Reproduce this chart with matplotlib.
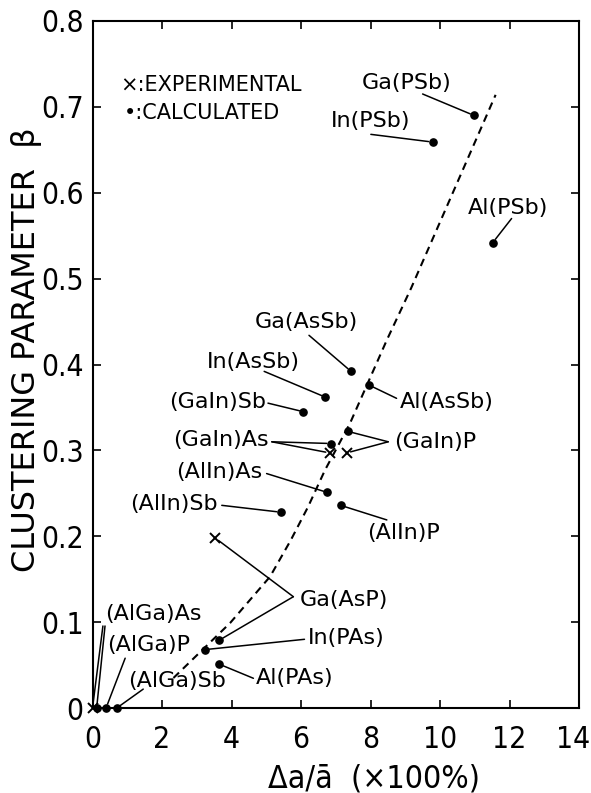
import matplotlib
matplotlib.use('Agg')
import matplotlib.pyplot as plt
from matplotlib import font_manager
from matplotlib.transforms import ScaledTranslation

# calculated clustering parameter vs. lattice mismatch (x100 %)
alloys = ['Ga(PSb)', 'In(PSb)', 'Al(PSb)', 'Ga(AsSb)', 'Al(AsSb)', 'In(AsSb)',
          '(GaIn)Sb', '(GaIn)P', '(GaIn)As', '(AlIn)As', '(AlIn)P', '(AlIn)Sb',
          'Ga(AsP)', 'In(PAs)', 'Al(PAs)', '(AlGa)As', '(AlGa)P', '(AlGa)Sb']
mismatch_calc = [10.98, 9.79, 11.52, 7.44, 7.96, 6.70,
                 6.07, 7.36, 6.86, 6.76, 7.14, 5.42,
                 3.65, 3.24, 3.65, 0.12, 0.39, 0.70]
beta_calc = [0.690, 0.659, 0.542, 0.392, 0.376, 0.362,
             0.345, 0.322, 0.308, 0.251, 0.236, 0.228,
             0.079, 0.068, 0.051, 0.0, 0.0, 0.0]

# experimental points
exp_alloys = ['(GaIn)As', '(GaIn)P', 'Ga(AsP)', '(AlGa)As']
mismatch_exp = [6.83, 7.31, 3.53, 0.0]
beta_exp = [0.297, 0.297, 0.198, 0.0]

# dashed trend curve
trend_x = [2.33, 3.96, 5.11, 5.70, 6.20, 6.69, 7.41, 8.47, 9.17, 11.60]
trend_y = [0.035, 0.099, 0.153, 0.195, 0.234, 0.277, 0.3315, 0.4285, 0.489, 0.714]

xticks = [0, 2, 4, 6, 8, 10, 12, 14]
yticks = [0, 0.1, 0.2, 0.3, 0.4, 0.5, 0.6, 0.7, 0.8]
ytick_labels = ['0', '0.1', '0.2', '0.3', '0.4', '0.5', '0.6', '0.7', '0.8']

# label text: (name, text xy, ha, leader starts, which points the leaders go to)
labels = [
    ('Ga(PSb)', (10.34, 0.728), 'right', [(9.50, 0.715)], ['calc']),
    ('In(PSb)', (7.99, 0.683), 'center', [(8.01, 0.668)], ['calc']),
    ('Al(PSb)', (11.97, 0.582), 'center', [(12.06, 0.570)], ['calc']),
    ('Ga(AsSb)', (6.16, 0.450), 'center', [(6.23, 0.434)], ['calc']),
    ('In(AsSb)', (5.97, 0.403), 'right', [(4.94, 0.392)], ['calc']),
    ('(GaIn)Sb', (4.99, 0.356), 'right', [(5.05, 0.355)], ['calc']),
    ('Al(AsSb)', (8.85, 0.356), 'left', [(8.75, 0.3606)], ['calc']),
    ('(GaIn)As', (5.08, 0.312), 'right', [(5.16, 0.310), (5.16, 0.310)], ['calc', 'exp']),
    ('(GaIn)P', (8.68, 0.310), 'left', [(8.51, 0.310), (8.51, 0.310)], ['calc', 'exp']),
    ('(AlIn)As', (4.88, 0.275), 'right', [(5.01, 0.273)], ['calc']),
    ('(AlIn)P', (7.90, 0.2035), 'left', [(8.47, 0.219)], ['calc']),
    ('(AlIn)Sb', (3.61, 0.238), 'right', [(3.72, 0.236)], ['calc']),
    ('Ga(AsP)', (5.97, 0.126), 'left', [(5.78, 0.1296), (5.78, 0.1296)], ['exp', 'calc']),
    ('In(PAs)', (6.20, 0.081), 'left', [(6.10, 0.080)], ['calc']),
    ('Al(PAs)', (4.71, 0.0346), 'left', [(4.63, 0.0346)], ['calc']),
    ('(AlGa)As', (0.36, 0.110), 'left', [(0.30, 0.0955), (0.36, 0.0955)], ['exp', 'calc']),
    ('(AlGa)P', (0.42, 0.073), 'left', [(0.94, 0.058)], ['calc']),
    ('(AlGa)Sb', (1.02, 0.032), 'left', [(1.46, 0.022)], ['calc']),
]

# narrow lettering for the numbers: condensed DejaVu if present, else Liberation Sans
cond = font_manager.findfont(font_manager.FontProperties(family='DejaVu Sans', stretch='condensed'))
if 'Condensed' in cond:
    tick_font = dict(fontproperties=font_manager.FontProperties(fname=cond, size=21.5))
    xlabel_font = dict(fontproperties=font_manager.FontProperties(fname=cond, size=23))
else:
    tick_font = dict(family='Liberation Sans', fontsize=20)
    xlabel_font = dict(family='Liberation Sans', fontsize=21)

fig = plt.figure(figsize=(5.91, 7.93), dpi=100)
ax = fig.add_axes([92.5 / 591, 85 / 793, 486.5 / 591, 687 / 793])

ax.plot(trend_x, trend_y, color='black', lw=1.5, linestyle=(0, (3.7, 2.6)))
ax.plot(mismatch_calc, beta_calc, 'o', color='black', ms=5.2, clip_on=False, zorder=5)
ax.plot(mismatch_exp, beta_exp, 'x', color='black', ms=7, mew=1.4, clip_on=False, zorder=5)

for name, txt, ha, starts, targets in labels:
    ax.text(txt[0], txt[1], name, ha=ha, va='center', fontsize=16, family='DejaVu Sans')
    for start, kind in zip(starts, targets):
        if kind == 'calc':
            i = alloys.index(name)
            pt = (mismatch_calc[i], beta_calc[i])
        else:
            i = exp_alloys.index(name)
            pt = (mismatch_exp[i], beta_exp[i])
        ax.annotate('', xy=pt, xytext=start,
                    arrowprops=dict(arrowstyle='-', color='black', lw=1.1,
                                    shrinkA=0, shrinkB=3))

ax.text(0.79, 0.7255, '×:EXPERIMENTAL', ha='left', va='center', fontsize=15, family='DejaVu Sans')
ax.text(0.91, 0.693, '•:CALCULATED', ha='left', va='center', fontsize=15, family='DejaVu Sans')

ax.set_xlim(0, 14)
ax.set_ylim(0, 0.8)
ax.set_xticks(xticks)
ax.set_xticklabels([str(t) for t in xticks], **tick_font)
ax.set_yticks(yticks)
ax.set_yticklabels(ytick_labels, **tick_font)
ax.tick_params(direction='in', top=True, right=True, length=6, width=1.2)
ax.tick_params(axis='x', pad=12)
ax.tick_params(axis='y', pad=6.5)
for sp in ax.spines.values():
    sp.set_linewidth(1.5)

# pull the last x label in a little so it stays on the page
last = ax.get_xticklabels()[-1]
last.set_transform(last.get_transform() + ScaledTranslation(-4 / 72, 0, fig.dpi_scale_trans))

ax.set_ylabel('CLUSTERING PARAMETER  β', fontsize=23, family='DejaVu Sans', va='center')
ax.yaxis.set_label_coords((27 - 92.5) / 486.5, (708 - 350) / 687)
ax.set_xlabel('Δa/ā  (×100%)', va='center', **xlabel_font)
ax.xaxis.set_label_coords((374 - 92.5) / 486.5, (708 - 779) / 687)

fig.savefig('out.png', dpi=100)
